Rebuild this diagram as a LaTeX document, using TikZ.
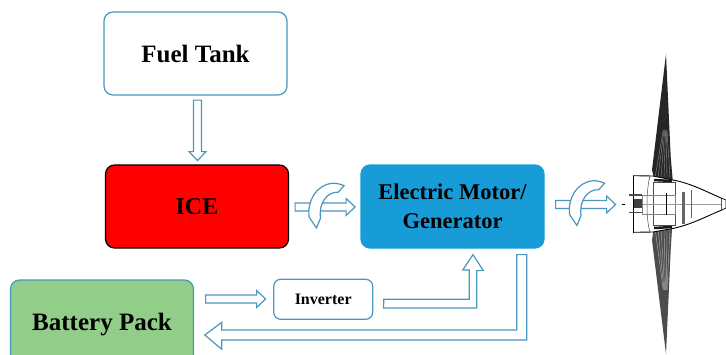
\documentclass[tikz,border=0pt]{standalone}
\usepackage{fontspec}
\setmainfont{Liberation Serif}
\usetikzlibrary{calc}
\definecolor{flowblue}{HTML}{4A96BE}
\definecolor{motorblue}{HTML}{189CD8}
\definecolor{packgreen}{HTML}{92CD8A}
\tikzset{
  block/.style={draw=flowblue, rounded corners=9pt, line width=1.2pt, minimum width=183pt,
    minimum height=83pt, align=center, font=\bfseries\fontsize{25}{28}\selectfont},
  flowline/.style={draw=flowblue, line width=1.2pt, fill=white, line join=miter},
  % straight hollow arrow, pointing along +x, #1 is its length
  flowarrow/.pic={
    \draw[flowline] (0,-4) -- (#1-9,-4) -- (#1-9,-8.5) -- (#1,0) -- (#1-9,8.5) -- (#1-9,4) -- (0,4) -- cycle;
  },
  % the curved arrow laid over a straight one
  turnarrow/.pic={
    \draw[flowline] (-7,10) .. controls (-9,-6) and (0,-22) .. (16,-23.7)
      .. controls (20,-24) and (24,-23) .. (28,-21.3) -- (22,-14.7)
      .. controls (12,-16) and (2,-4) .. (4.5,11) -- (0.3,21) -- cycle;
  }
}
\begin{document}
\begin{tikzpicture}[x=1pt, y=-1pt]
  \clip (0,0) rectangle (726,354);

  %% Blocks
  \node[block, fill=white] (fuel) at (195.5,53.5) {Fuel Tank};
  \node[block, fill=red, draw=black, font=\bfseries\fontsize{24}{28}\selectfont] (ice) at (197,206.5) {ICE};
  \node[block, fill=motorblue, draw=motorblue, font=\bfseries\fontsize{22.5}{29}\selectfont] (motor) at (452.5,206.5) {Electric Motor/\\Generator};
  \node[block, fill=packgreen, minimum height=90pt] (battery) at (102,325) {Battery Pack};
  \node[block, fill=white, minimum width=99pt, minimum height=40pt, rounded corners=7pt,
    font=\bfseries\fontsize{16}{18}\selectfont] (inverter) at (323.2,299.3) {Inverter};

  %% Straight arrows
  \pic[rotate=-90] at ($(fuel.south)+(2,4.5)$) {flowarrow=60.5};
  \pic at ($(ice.east)+(6,0.5)$) {flowarrow=60};
  \pic at ($(motor.east)+(11,-2)$) {flowarrow=60};
  \pic at ($(battery.east)+(11.5,-26)$) {flowarrow=60};

  %% Inverter to motor
  \draw[flowline] ($(inverter.east)+(10.5,0)$) -- ++(85.5,0) -- ++(0,-29.3) -- ++(-6.5,0)
    -- ($(motor.south)+(20.5,6)$) -- ++(10.3,16) -- ++(-6.5,0) -- ++(0,37.3) -- ++(-93.3,0) -- cycle;

  %% Motor back to battery
  \draw[flowline] ($(motor.south)+(64.2,6)$) |- ($(battery.east)+(27.7,5)$) -- ++(0,-7.7) -- ++(-17,12.7) -- ++(17,14.3)
    -- ++(0,-9.3) -| ($(motor.south)+(74.2,6)$) -- cycle;

  %% Curved arrows
  \pic at ($(ice.east)+(27,0.5)$) {turnarrow};
  \pic at ($(motor.east)+(32,-2)$) {turnarrow};

  %% Propeller blades, hatched from tip to root
  \fill[black!85] (666,54) -- (652,170) -- (654,178) -- (672.7,180) -- (670.7,157) -- cycle;
  \fill[black!70] (666,354) -- (652,240) -- (654,227) -- (672,229) -- (670.7,250) -- cycle;
  \foreach \x in {655,658,661,664,667,670} {
    \draw[black!45, line width=0.4pt] (\x/4+499.5,130) -- (\x,178);
    \draw[black!35, line width=0.5pt] (\x/4+499.5,290) -- (\x,228);
  }

  %% Nacelle
  \draw[black, line width=0.9pt, fill=white] (653,176) -- (633.5,175.7) -- (633.5,232.3) -- (653,232)
    -- (672.7,228.5) .. controls (690,225) and (705,217) .. (721.7,210) -- (721.7,198.3)
    .. controls (705,191) and (690,183) .. (672.7,180) -- cycle;
  \draw[black!70, line width=0.5pt] (650,176) .. controls (646,190) and (646,220) .. (650,232);
  \draw[black!70, line width=0.5pt] (653,182) rectangle (675,225);
  \draw[black!50, line width=0.4pt] (642,195) rectangle (675,214);
  \draw[black!40, line width=0.4pt] (643,204) -- (724,204);
  \draw[black!90, line width=2.5pt] (654,180) -- (672,181);
  \draw[black!90, line width=2.5pt] (654,228) -- (672,227);
  \draw[black, line width=1pt] (666,193) -- (666,215);
  \draw[black!60, line width=3pt] (683,192) -- (683,223.5);
  \draw[black!60, line width=1pt] (691.7,190) -- (691.7,218);
  \draw[black, line width=2pt] (721.7,198.3) -- (721.7,210);
  \draw[black, line width=0.7pt, fill=white] (721.7,198.3) -- (726,200) -- (726,208) -- (721.7,210);

  %% Engine at the front of the nacelle
  \foreach \y in {195,212.5} \draw[black!70, line width=1.3pt] (629,\y) -- (642,\y);
  \fill[black!75] (634,199) rectangle (642,208);
  \draw[black, line width=1.2pt] (622,204.5) -- (625,204.5);
\end{tikzpicture}
\end{document}
